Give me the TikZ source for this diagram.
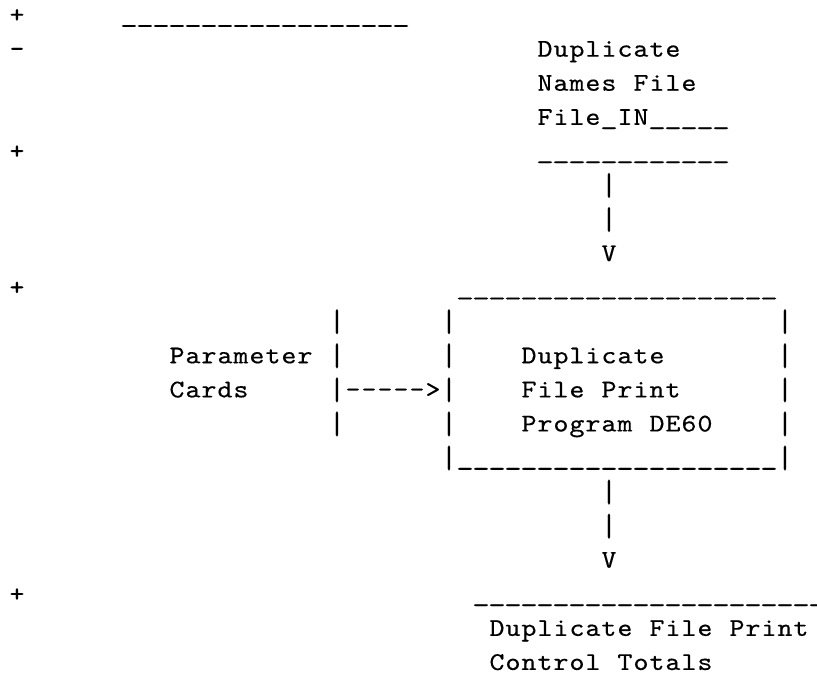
\documentclass[tikz,border=0pt]{standalone}
\usepackage{fontspec}
\usepackage{graphicx}
\newfontfamily\asciifont{lmmono10-regular.otf}[FakeStretch=1.12,FakeBold=0.35]

% Fixed-pitch cells: every character gets a box of the same width
\newlength\cellw
\setlength\cellw{16pt}
\makeatletter
\def\asc#1{\asc@step#1\asc@stop}
\def\asc@stop{\asc@stop}
\def\asc@step#1{\ifx#1\asc@stop\else\makebox[\cellw][c]{#1}\expandafter\asc@step\fi}
\makeatother
% a wide underscore that nearly fills its cell
\newcommand\us{\scalebox{1.2}[1]{\_}}
% a vertical bar 25pt long, reaching 5pt below the baseline, stroke width kept
\newcommand\vb{\raisebox{-5pt}{\resizebox*{\width}{25pt}{\raisebox{\depth}{|}}}}

\tikzset{
  ascii/.style={anchor=base west, inner sep=0pt, outer sep=0pt,
    font=\asciifont\fontsize{25.5pt}{30pt}\selectfont}
}
% \placetext{name}{column}{line}{characters}
\newcommand\placetext[4]{%
  \node[ascii] (#1) at ({9pt+16pt*#2},{-22.6pt-34.07pt*#3}) {\asc{#4}};}

\begin{document}
\begin{tikzpicture}
\useasboundingbox (0,0) rectangle (817pt,-675pt);
\fill[white] (0,0) rectangle (817pt,-675pt);

% input file
\placetext{plusA}{0}{0}{+}
\placetext{ruleA}{7}{0}{\us\us\us\us\us\us\us\us\us\us\us\us\us\us\us\us\us\us}
\placetext{minusA}{0}{1}{-}
\placetext{inA}{33}{1}{Duplicate}
\placetext{inB}{33}{2}{Names~File}
\placetext{inC}{33}{3}{File\us IN\us\us\us\us\us}
\placetext{plusB}{0}{4}{+}
\placetext{inRule}{33}{4}{\us\us\us\us\us\us\us\us\us\us\us\us}

% flow into the program
\placetext{downAa}{37}{5}{\vb}
\placetext{downAb}{37}{6}{\vb}
\placetext{downAtip}{37}{7}{V}

% program box
\placetext{plusC}{0}{8}{+}
\placetext{boxTop}{28}{8}{\us\us\us\us\us\us\us\us\us\us\us\us\us\us\us\us\us\us\us\us}
\placetext{cardBarA}{20}{9}{\vb}
\placetext{boxLeftA}{27}{9}{\vb}
\placetext{boxRightA}{48}{9}{\vb}

\placetext{paramA}{10}{10}{Parameter}
\placetext{cardBarB}{20}{10}{\vb}
\placetext{boxLeftB}{27}{10}{\vb}
\placetext{progA}{32}{10}{Duplicate}
\placetext{boxRightB}{48}{10}{\vb}

\placetext{paramB}{10}{11}{Cards}
\placetext{cardArrow}{20}{11}{\vb----->\vb}
\placetext{progB}{32}{11}{File~Print}
\placetext{boxRightC}{48}{11}{\vb}

\placetext{cardBarD}{20}{12}{\vb}
\placetext{boxLeftD}{27}{12}{\vb}
\placetext{progC}{32}{12}{Program~DE60}
\placetext{boxRightD}{48}{12}{\vb}

\placetext{boxBottom}{27}{13}{\vb\us\us\us\us\us\us\us\us\us\us\us\us\us\us\us\us\us\us\us\us\vb}

% flow out of the program
\placetext{downBa}{37}{14}{\vb}
\placetext{downBb}{37}{15}{\vb}
\placetext{downBtip}{37}{16}{V}

% output report
\placetext{plusD}{0}{17}{+}
\placetext{outRule}{29}{17}{\us\us\us\us\us\us\us\us\us\us\us\us\us\us\us\us\us\us\us\us\us\us}
\placetext{outA}{30}{18}{Duplicate~File~Print}
\placetext{outB}{30}{19}{Control~Totals}
\end{tikzpicture}
\end{document}
